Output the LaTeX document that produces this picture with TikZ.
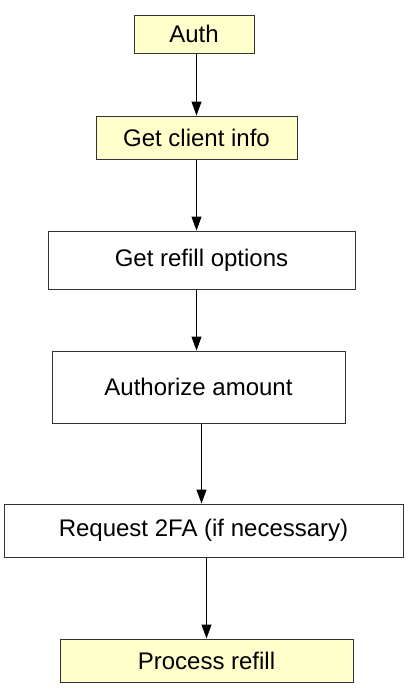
\documentclass[tikz,border=0pt]{standalone}
\usepackage{fontspec}
\setmainfont{Liberation Sans}
\usepackage{tikz}
\usetikzlibrary{positioning, arrows.meta}
\definecolor{boxyellow}{RGB}{255, 255, 204}
\definecolor{boxline}{RGB}{51, 51, 51}
\tikzset{
    stepbox/.style={rectangle, draw=boxline, line width=0.75pt, fill=white, inner sep=0pt, font=\fontsize{18}{21}\selectfont},
    endbox/.style={stepbox, fill=boxyellow},
    flow/.style={draw=black, line width=0.75pt, -{Triangle[length=10.5pt, width=7.5pt]}}
}
\begin{document}
\begin{tikzpicture}[x=0.75pt, y=-0.75pt]
    \useasboundingbox (0,0) rectangle (408,690);
    \node[endbox, minimum width=90pt, minimum height=28.5pt] (auth) at (194,34) {Auth};
    \node[endbox, minimum width=150.75pt, minimum height=32.25pt] (client) at (196.5,137.5) {Get client info};
    \node[stepbox, minimum width=230.25pt, minimum height=43.5pt] (options) at (201.5,260) {Get refill options};
    \node[stepbox, minimum width=219.75pt, minimum height=54pt] (authz) at (198.5,387) {Authorize amount};
    \node[stepbox, minimum width=299.25pt, minimum height=39.75pt] (req) at (203.5,530.5) {Request 2FA (if necessary)};
    \node[endbox, minimum width=219.75pt, minimum height=32.25pt] (proc) at (206.5,660.5) {Process refill};

    \draw[flow] (auth.south -| client) -- (client.north);
    \draw[flow] (client.south) -- (options.north -| client);
    \draw[flow] (options.south -| client) -- (authz.north -| client);
    \draw[flow] (authz.south -| options) -- (req.north -| options);
    \draw[flow] (req.south -| proc) -- (proc.north);
\end{tikzpicture}
\end{document}
